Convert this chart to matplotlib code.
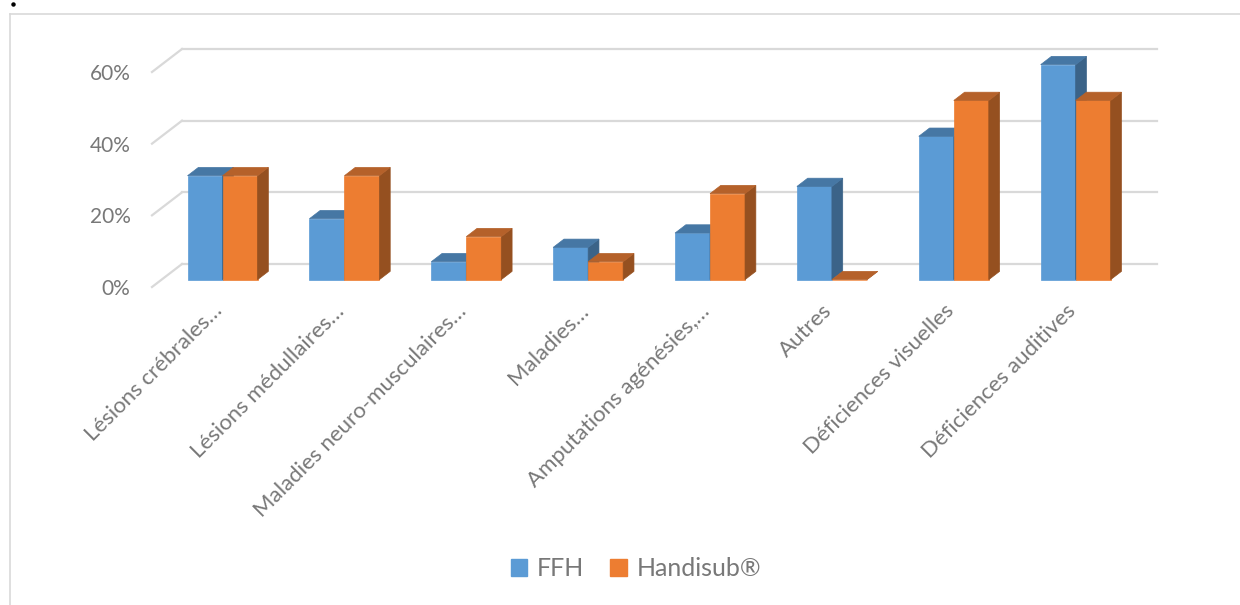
import matplotlib
matplotlib.use("Agg")
import matplotlib.pyplot as plt
from matplotlib.patches import Polygon, Patch
from matplotlib.lines import Line2D
from matplotlib.ticker import PercentFormatter

plt.rcParams['font.family'] = ['Lato', 'DejaVu Sans']

categories = [
    "Lésions crébrales…",
    "Lésions médullaires…",
    "Maladies neuro-musculaires…",
    "Maladies…",
    "Amputations agénésies,…",
    "Autres",
    "Déficiences visuelles",
    "Déficiences auditives",
]
series_names = ["FFH", "Handisub®"]
ffh = [0.29, 0.17, 0.05, 0.09, 0.13, 0.26, 0.40, 0.60]
handisub = [0.29, 0.29, 0.12, 0.05, 0.24, 0.00, 0.50, 0.50]
y_ticks = [0.0, 0.2, 0.4, 0.6]

# face colours: front, top, side
blue = ("#5B9BD5", "#4677A4", "#3B6388")
orange = ("#ED7D31", "#B5612A", "#955020")
text_col = "#787878"
grid_col = "#D9D9D9"

W, H = 1240, 605
fig = plt.figure(figsize=(W / 100, H / 100), dpi=100)
fig.patch.set_facecolor("white")

# axes = front plane of the pseudo-3D plot box
left_px, right_px, base_px, top_px = 152, 1127, 287, 72
ax = fig.add_axes([left_px / W, (H - base_px) / H,
                   (right_px - left_px) / W, (base_px - top_px) / H])
n = len(categories)
ax.set_xlim(-0.5, n - 0.5)
ax.set_ylim(0, 0.6)
for s in ax.spines.values():
    s.set_visible(False)
ax.patch.set_alpha(0)

# oblique depth of the plot box in data units
px_x = (right_px - left_px) / n      # pixels per category
px_y = (base_px - top_px) / 0.6      # pixels per unit value
DX = 30 / px_x
DY = 23 / px_y
f_front, f_depth = 0.32, 0.36        # bars sit in the middle of the depth

# back wall gridlines and left-side connectors
for v in y_ticks:
    ax.add_line(Line2D([-0.5 + DX, n - 0.5 + DX], [v + DY, v + DY],
                       color=grid_col, lw=1.6, clip_on=False, zorder=1))
    ax.add_line(Line2D([-0.5, -0.5 + DX], [v, v + DY],
                       color=grid_col, lw=1.6, clip_on=False, zorder=1))

bw = 35 / px_x
fx, fy = f_front * DX, f_front * DY
bx, by = f_depth * DX, f_depth * DY


def draw_bar(x0, v, cols):
    x1 = x0 + bw
    ax.bar(x0 + fx, v, width=bw, bottom=fy, align="edge", color=cols[0],
           edgecolor=cols[0], linewidth=0.5, clip_on=False, zorder=3)
    top = Polygon([(x0 + fx, v + fy), (x1 + fx, v + fy),
                   (x1 + fx + bx, v + fy + by), (x0 + fx + bx, v + fy + by)],
                  closed=True, facecolor=cols[1], edgecolor=cols[1],
                  linewidth=0.5, clip_on=False, zorder=3)
    side = Polygon([(x1 + fx, fy), (x1 + fx + bx, fy + by),
                    (x1 + fx + bx, v + fy + by), (x1 + fx, v + fy)],
                   closed=True, facecolor=cols[2], edgecolor=cols[2],
                   linewidth=0.5, clip_on=False, zorder=3)
    ax.add_patch(side)
    ax.add_patch(top)


for i in range(n):
    draw_bar(i - bw, ffh[i], blue)
    draw_bar(i, handisub[i], orange)

ax.set_yticks(y_ticks)
ax.yaxis.set_major_formatter(PercentFormatter(1.0, decimals=0))
ax.tick_params(axis="y", length=0, pad=15.5, labelsize=15, labelcolor=text_col)

label_shift = -3 / px_x
ax.set_xticks([i + fx + label_shift for i in range(n)])
ax.set_xticklabels(categories, rotation=45, ha="right", va="center",
                   rotation_mode="anchor")
ax.tick_params(axis="x", length=0, pad=15, labelsize=16, labelcolor=text_col)

# chart area frame
fig.add_artist(Line2D([10 / W, 1.0], [1 - 13.5 / H, 1 - 13.5 / H],
                      transform=fig.transFigure, color=grid_col, lw=1.2))
fig.add_artist(Line2D([10 / W, 10 / W], [0, 1 - 13.5 / H],
                      transform=fig.transFigure, color=grid_col, lw=1.2))
fig.add_artist(Line2D([13 / W], [1 - 4 / H], transform=fig.transFigure,
                      marker="o", markersize=2.2, color="black", lw=0))

handles = [Patch(facecolor=blue[0], edgecolor=blue[0]),
           Patch(facecolor=orange[0], edgecolor=orange[0])]
fig.legend(handles, series_names, loc="center",
           bbox_to_anchor=(636 / W, 1 - 569 / H), ncol=2, frameon=False,
           fontsize=18, labelcolor=text_col, handlelength=0.65,
           handleheight=0.65, handletextpad=0.4, columnspacing=1.05)

fig.savefig("out.png", dpi=100, facecolor="white")
